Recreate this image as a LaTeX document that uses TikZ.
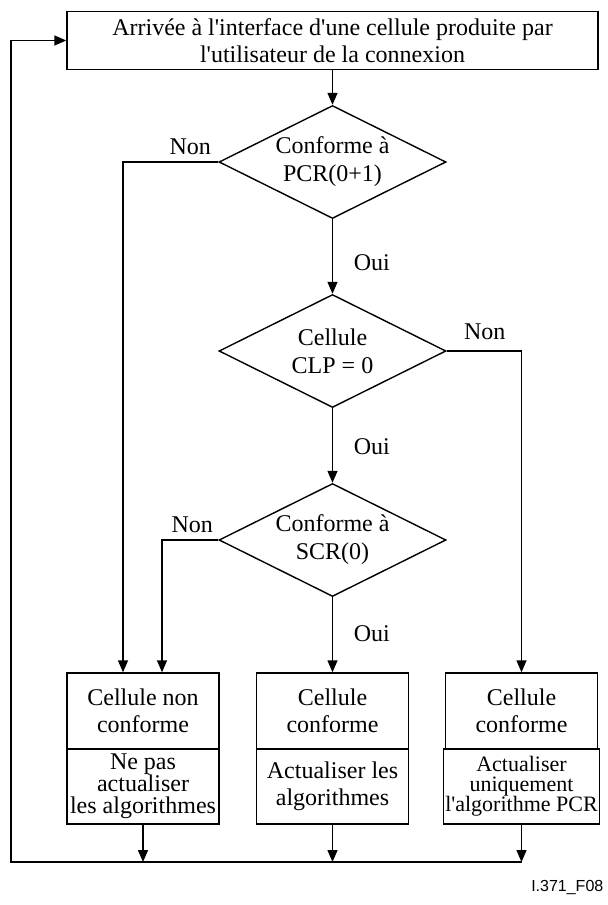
\documentclass[tikz,border=0pt]{standalone}
\usepackage{fontspec}
\newfontfamily\figrm{Liberation Serif}
\newfontfamily\figsf{Liberation Sans}
\usetikzlibrary{arrows.meta, positioning, shapes.geometric}

\begin{document}
\begin{tikzpicture}[x=0.5pt, y=-0.5pt, node distance=94.5pt, on grid,
    line width=0.7pt, >={Triangle[length=6pt, width=5pt]},
    every node/.style={font={\figrm\fontsize{12}{13.5}\selectfont}},
    test/.style={diamond, draw, aspect=2, inner sep=0pt, align=center,
      minimum width=113.5pt, minimum height=56.5pt,
      font={\figrm\fontsize{12}{14}\selectfont}},
    box/.style={rectangle, draw, align=center, inner sep=1pt,
      minimum width=76pt, minimum height=38pt},
    todo/.style={box, minimum height=37.5pt}]

   \useasboundingbox (0,0) rectangle (607,905);

   \node[draw, align=center, minimum width=265.5pt, minimum height=28.5pt] (arr) at (332.5,40.5)
      {Arrivée à l'interface d'une cellule produite par\\l'utilisateur de la connexion};

   \node[test] (c1) [below=60.75pt of arr] {Conforme à\\PCR(0+1)};
   \node[test] (c2) [below=of c1] {Cellule\\CLP = 0};
   \node[test] (c3) [below=of c2] {Conforme à\\SCR(0)};

   \node[box] (n2) [below=85.5pt of c3] {Cellule\\conforme};
   \node[box] (n1) [left=94.75pt of n2] {Cellule non\\conforme};
   \node[box] (n3) [right=of n2] {Cellule\\conforme};

   \node[todo, font={\figrm\fontsize{12}{11}\selectfont}] (a1) [below=37.75pt of n1]
      {Ne pas\\actualiser\\les algorithmes};
   \node[todo] (a2) [below=37.75pt of n2] {Actualiser les\\algorithmes};
   \node[todo, font={\figrm\fontsize{11}{10}\selectfont}] (a3) [below=37.75pt of n3]
      {Actualiser\\uniquement\\l'algorithme PCR};

   \coordinate (bot) at (11,862);
   \node[anchor=east, inner sep=0pt, font={\figsf\fontsize{8}{9}\selectfont}] (ref) at (604,887) {I.371\_F08};

   % main column
   \draw[->] (arr) -- (c1);
   \draw[->] (c1) -- node[right=7pt, pos=0.58] {Oui} (c2);
   \draw[->] (c2) -- node[right=7pt, pos=0.52] {Oui} (c3);
   \draw[->] (c3) -- node[right=7pt, pos=0.48] {Oui} (n2);

   % branches
   \draw[->] (c1.west) node[above left] {Non} -| ([xshift=-10pt]n1.north);
   \draw[->] (c2.east) node[above right, xshift=5pt, yshift=2pt] {Non} -| (n3.north);
   \draw[->] (c3.west) node[above left, xshift=1pt] {Non} -| ([xshift=9.5pt]n1.north);

   % back to the start
   \draw[->] (a1) -- (a1 |- bot);
   \draw[->] (a2) -- (a2 |- bot);
   \draw[->] (a3) -- (a3 |- bot);
   \draw[->] (a3 |- bot) -- (bot) |- (arr.west);

\end{tikzpicture}
\end{document}
